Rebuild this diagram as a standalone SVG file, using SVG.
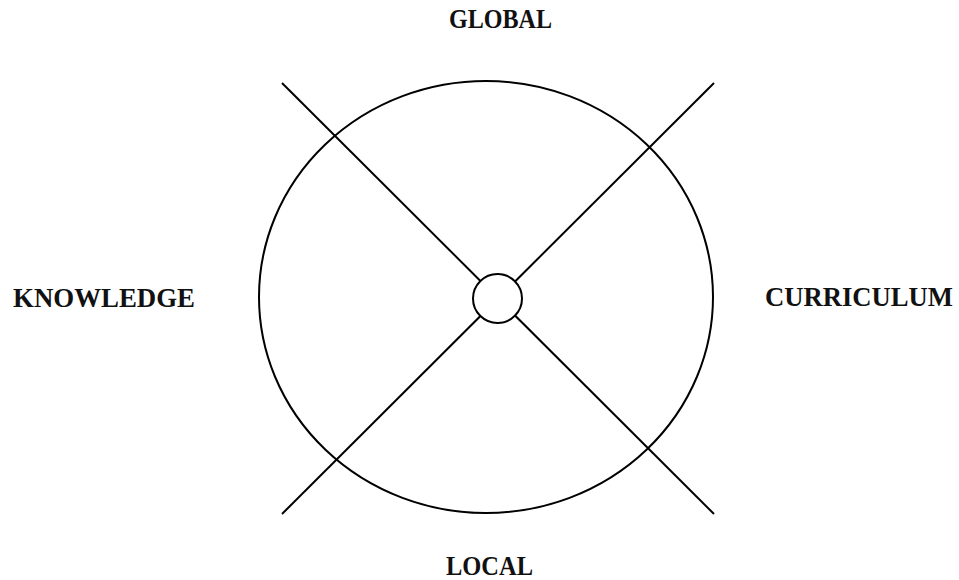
<svg xmlns="http://www.w3.org/2000/svg" width="959" height="580" viewBox="0 0 959 580">
<style>
.ln{stroke:#000;stroke-width:2;fill:none}
.lbl{font-family:"Liberation Serif","Times New Roman",serif;font-weight:bold;font-size:27px;fill:#111;text-anchor:middle}
</style>
<rect width="959" height="580" fill="#fff"/>
<g id="outer"><ellipse class="ln" cx="486" cy="297" rx="227" ry="216"/></g>
<g id="connectors">
<line class="ln" x1="282" y1="83" x2="714" y2="514"/>
<line class="ln" x1="714" y1="83" x2="282" y2="514"/>
</g>
<g id="hub"><circle cx="497.5" cy="298.5" r="24.5" fill="#fff" stroke="#000" stroke-width="2"/></g>
<g id="global"><text class="lbl" x="500.5" y="28" textLength="103" lengthAdjust="spacingAndGlyphs">GLOBAL</text></g>
<g id="local"><text class="lbl" x="489.5" y="575" textLength="87" lengthAdjust="spacingAndGlyphs">LOCAL</text></g>
<g id="knowledge"><text class="lbl" x="104" y="307" textLength="182" lengthAdjust="spacingAndGlyphs">KNOWLEDGE</text></g>
<g id="curriculum"><text class="lbl" x="859" y="306" textLength="188" lengthAdjust="spacingAndGlyphs">CURRICULUM</text></g>
</svg>
